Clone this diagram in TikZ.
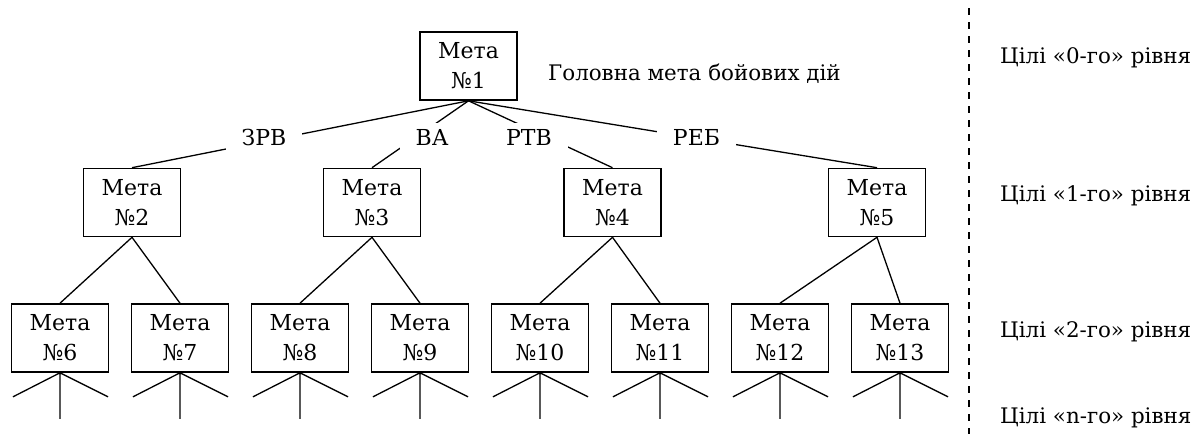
\documentclass[tikz,border=0pt]{standalone}
\usepackage{fontspec}
\setmainfont{DejaVu Serif}
\begin{document}
\begin{tikzpicture}[x=1pt,y=-1pt,
    goal/.style={draw, line width=1.6pt, minimum width=97pt, minimum height=68pt,
      inner sep=0pt, align=center, font=\fontsize{22}{30}\selectfont},
    branch/.style={fill=white, inner xsep=16pt, inner ysep=6pt,
      font=\fontsize{22}{30}\selectfont},
    level/.style={anchor=base west, inner sep=0pt, font=\fontsize{21.4}{30}\selectfont},
    link/.style={line width=1.3pt}]
  \useasboundingbox (0,0) rectangle (1204,434);

  % Draw the main goal
  \node[goal] (m1) at (468.5,66) {Мета\\№1};
  \node[level] (head) at (548,80) {Головна мета бойових дій};

  % Draw the goals of the first level
  \node[goal] (m2) at (132,202.5) {Мета\\№2};
  \node[goal] (m3) at (372,202.5) {Мета\\№3};
  \node[goal] (m4) at (612.5,202.5) {Мета\\№4};
  \node[goal] (m5) at (877,202.5) {Мета\\№5};

  % Draw the goals of the second level
  \foreach \i/\x in {6/60,7/180,8/300,9/420,10/540,11/660,12/780,13/900}
    \node[goal] (m\i) at (\x,338) {Мета\\№\i};

  % Links from the main goal, cut by the labels
  \draw[link] (m1.south) -- (m2.north);
  \draw[link] (m1.south) -- (m3.north);
  \draw[link] (m1.south) -- (m4.north);
  \draw[link] (m1.south) -- (m5.north);
  \node[branch] (zrv) at (264,137) {ЗРВ};
  \node[branch] (va) at (432,137) {ВА};
  \node[branch] (rtv) at (529,137) {РТВ};
  \node[branch] (reb) at (696.5,137) {РЕБ};

  % Links to the second level
  \foreach \p/\c in {2/6,2/7,3/8,3/9,4/10,4/11,5/12,5/13}
    \draw[link] (m\p.south) -- (m\c.north);

  % Open branches below
  \foreach \i in {6,...,13} {
    \path (m\i.south) ++(-47,24) coordinate (l\i);
    \path (m\i.south) ++(48,24) coordinate (r\i);
    \path (m\i.south) ++(0,46) coordinate (d\i);
    \draw[link] (l\i) -- (m\i.south) -- (r\i) (m\i.south) -- (d\i);
  }

  % Levels on the right
  \coordinate (sepTop) at (969,8);
  \coordinate (sepBot) at (969,434);
  \draw[line width=1.3pt, dash pattern=on 7pt off 7pt] (sepTop) -- (sepBot);
  \node[level] (lev0) at (1000,63) {Цілі «0-го» рівня};
  \node[level] (lev1) at (1000,201) {Цілі «1-го» рівня};
  \node[level] (lev2) at (1000,337) {Цілі «2-го» рівня};
  \node[level] (levn) at (1000,423) {Цілі «n-го» рівня};
\end{tikzpicture}
\end{document}
